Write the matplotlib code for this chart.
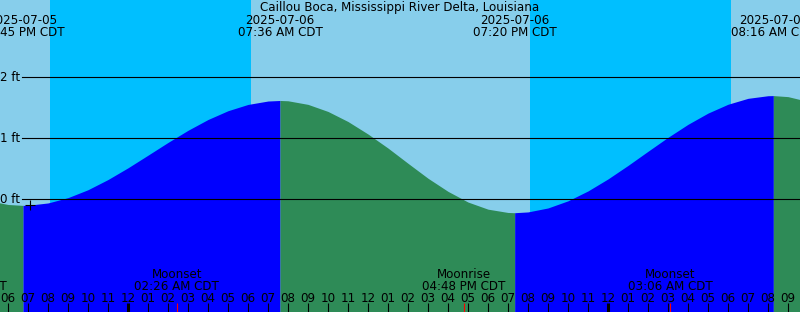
import numpy as np
import matplotlib.pyplot as plt

title = "Caillou Boca, Mississippi River Delta, Louisiana"

# hours counted from 2025-07-06 00:00 CDT
tide_hours = [-7, -6, -5.25, -5, -4, -3, -2, -1, 0, 1, 2, 3, 4, 5, 6, 7, 7.6,
              8, 9, 10, 11, 12, 13, 14, 15, 16, 17, 18, 19, 19.333,
              20, 21, 22, 23, 24, 25, 26, 27, 28, 29, 30, 31, 32, 32.267, 33, 34]
tide_ft = [-0.02, -0.085, -0.10, -0.098, -0.06, 0.027, 0.157, 0.324, 0.516, 0.723,
           0.932, 1.131, 1.308, 1.452, 1.555, 1.611, 1.62,
           1.615, 1.556, 1.44, 1.275, 1.07, 0.84, 0.59, 0.345, 0.13, -0.045, -0.162,
           -0.216, -0.22,
           -0.207, -0.142, -0.025, 0.137, 0.334, 0.555, 0.787, 1.016, 1.229, 1.413,
           1.558, 1.655, 1.698, 1.70, 1.683, 1.604]

extreme_hours = [-5.25, 7.6, 19.333, 32.267]
extreme_dates = ["2025-07-05", "2025-07-06", "2025-07-06", "2025-07-07"]
extreme_times = ["06:45 PM CDT", "07:36 AM CDT", "07:20 PM CDT", "08:16 AM CDT"]

night_start = [-3.9, 20.1]
night_end = [6.15, 30.15]

moon_hours = [-8.18, 2.433, 16.8, 27.1]
moon_names = ["Moonrise", "Moonset", "Moonrise", "Moonset"]
moon_times = ["03:49 PM CDT", "02:26 AM CDT", "04:48 PM CDT", "03:06 AM CDT"]

now_hour, now_ft = -4.9, -0.10

W, H = 800, 312
x0, x1 = -6.4, 33.6
ft_px = 61.0
zero_px = 199.3
y_top = zero_px / ft_px
y_bot = -(H - zero_px) / ft_px

plt.rcParams['font.family'] = 'DejaVu Sans'
fs = 8.6

fig = plt.figure(figsize=(W / 100, H / 100), dpi=100)
ax = fig.add_axes([0, 0, 1, 1])
ax.set_xlim(x0, x1)
ax.set_ylim(y_bot, y_top)
ax.set_facecolor('#87CEEB')
for s in ax.spines.values():
    s.set_visible(False)
ax.set_xticks([])
ax.set_yticks([])

for a, b in zip(night_start, night_end):
    ax.axvspan(a, b, color='#00BFFF', lw=0)

h = np.array(tide_hours)
v = np.array(tide_ft)
bounds = [h[0]] + extreme_hours + [h[-1]]
cols = ['#2E8B57', '#0000FF']
for i in range(len(bounds) - 1):
    m = (h >= bounds[i] - 1e-6) & (h <= bounds[i + 1] + 1e-6)
    ax.fill_between(h[m], v[m], y_bot, color=cols[i % 2], lw=0)

for lvl in [0, 1, 2]:
    ax.axhline(lvl, xmin=22 / W, color='black', lw=0.8)
    ax.text(20 / W, lvl - 4 / ft_px, f"{lvl} ft", transform=ax.get_yaxis_transform(),
            ha='right', va='baseline', fontsize=fs)

ax.plot(now_hour, now_ft, marker='+', ms=7, mew=0.8, color='black')

tx = ax.get_xaxis_transform()
ax.text(0.5, 1 - 11 / H, title, transform=ax.transAxes, ha='center', va='baseline', fontsize=fs)
for eh, d, t in zip(extreme_hours, extreme_dates, extreme_times):
    ax.text(eh, 1 - 24 / H, d, transform=tx, ha='center', va='baseline', fontsize=fs)
    ax.text(eh, 1 - 36 / H, t, transform=tx, ha='center', va='baseline', fontsize=fs)

for mh, n, t in zip(moon_hours, moon_names, moon_times):
    ax.text(mh, 1 - 278 / H, n, transform=tx, ha='center', va='baseline', fontsize=fs)
    ax.text(mh, 1 - 290 / H, t, transform=tx, ha='center', va='baseline', fontsize=fs)
    ax.vlines(mh, 0, 9 / H, transform=tx, color='red', lw=0.8)

for hr in range(-7, 35):
    hod = hr % 24
    lab = f"{(hod - 1) % 12 + 1:02d}"
    ax.text(hr, 1 - 302 / H, lab, transform=tx, ha='center', va='baseline', fontsize=fs)
    ax.vlines(hr, 0, 9 / H, transform=tx, color='black', lw=2.2 if hod == 0 else 0.8)

fig.savefig('out.png', dpi=100)
